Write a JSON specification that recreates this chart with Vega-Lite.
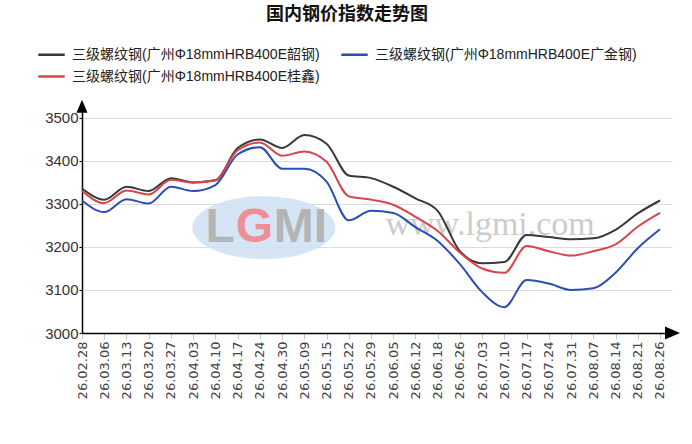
{
  "$schema": "https://vega.github.io/schema/vega-lite/v6.json",
  "width": 590,
  "height": 228,
  "autosize": {"type": "none"},
  "padding": {"left": 82, "top": 105, "right": 20, "bottom": 111},
  "background": "#ffffff",
  "title": {"text": "国内钢价指数走势图", "fontSize": 18, "font": "Noto Sans CJK SC", "fontWeight": "bold", "anchor": "middle", "frame": "group", "dx": -30, "dy": -12, "color": "#111111"},
  "config": {"view": {"stroke": null}},
  "datasets": {
    "one": [{}],
    "prices": [
      {"date": "26.02.28", "series": "三级螺纹钢(广州Φ18mmHRB400E韶钢)", "price": 3336},
      {"date": "26.03.06", "series": "三级螺纹钢(广州Φ18mmHRB400E韶钢)", "price": 3310},
      {"date": "26.03.13", "series": "三级螺纹钢(广州Φ18mmHRB400E韶钢)", "price": 3340},
      {"date": "26.03.20", "series": "三级螺纹钢(广州Φ18mmHRB400E韶钢)", "price": 3330},
      {"date": "26.03.27", "series": "三级螺纹钢(广州Φ18mmHRB400E韶钢)", "price": 3360},
      {"date": "26.04.03", "series": "三级螺纹钢(广州Φ18mmHRB400E韶钢)", "price": 3350},
      {"date": "26.04.10", "series": "三级螺纹钢(广州Φ18mmHRB400E韶钢)", "price": 3355},
      {"date": "26.04.17", "series": "三级螺纹钢(广州Φ18mmHRB400E韶钢)", "price": 3430},
      {"date": "26.04.24", "series": "三级螺纹钢(广州Φ18mmHRB400E韶钢)", "price": 3450},
      {"date": "26.04.30", "series": "三级螺纹钢(广州Φ18mmHRB400E韶钢)", "price": 3430},
      {"date": "26.05.09", "series": "三级螺纹钢(广州Φ18mmHRB400E韶钢)", "price": 3460},
      {"date": "26.05.15", "series": "三级螺纹钢(广州Φ18mmHRB400E韶钢)", "price": 3440},
      {"date": "26.05.22", "series": "三级螺纹钢(广州Φ18mmHRB400E韶钢)", "price": 3366},
      {"date": "26.05.29", "series": "三级螺纹钢(广州Φ18mmHRB400E韶钢)", "price": 3360},
      {"date": "26.06.05", "series": "三级螺纹钢(广州Φ18mmHRB400E韶钢)", "price": 3340},
      {"date": "26.06.12", "series": "三级螺纹钢(广州Φ18mmHRB400E韶钢)", "price": 3313},
      {"date": "26.06.18", "series": "三级螺纹钢(广州Φ18mmHRB400E韶钢)", "price": 3284},
      {"date": "26.06.26", "series": "三级螺纹钢(广州Φ18mmHRB400E韶钢)", "price": 3190},
      {"date": "26.07.03", "series": "三级螺纹钢(广州Φ18mmHRB400E韶钢)", "price": 3162},
      {"date": "26.07.10", "series": "三级螺纹钢(广州Φ18mmHRB400E韶钢)", "price": 3165},
      {"date": "26.07.17", "series": "三级螺纹钢(广州Φ18mmHRB400E韶钢)", "price": 3228},
      {"date": "26.07.24", "series": "三级螺纹钢(广州Φ18mmHRB400E韶钢)", "price": 3223},
      {"date": "26.07.31", "series": "三级螺纹钢(广州Φ18mmHRB400E韶钢)", "price": 3218},
      {"date": "26.08.07", "series": "三级螺纹钢(广州Φ18mmHRB400E韶钢)", "price": 3220},
      {"date": "26.08.14", "series": "三级螺纹钢(广州Φ18mmHRB400E韶钢)", "price": 3240},
      {"date": "26.08.21", "series": "三级螺纹钢(广州Φ18mmHRB400E韶钢)", "price": 3278},
      {"date": "26.08.26", "series": "三级螺纹钢(广州Φ18mmHRB400E韶钢)", "price": 3308},
      {"date": "26.02.28", "series": "三级螺纹钢(广州Φ18mmHRB400E广金钢)", "price": 3308},
      {"date": "26.03.06", "series": "三级螺纹钢(广州Φ18mmHRB400E广金钢)", "price": 3281},
      {"date": "26.03.13", "series": "三级螺纹钢(广州Φ18mmHRB400E广金钢)", "price": 3311},
      {"date": "26.03.20", "series": "三级螺纹钢(广州Φ18mmHRB400E广金钢)", "price": 3301},
      {"date": "26.03.27", "series": "三级螺纹钢(广州Φ18mmHRB400E广金钢)", "price": 3340},
      {"date": "26.04.03", "series": "三级螺纹钢(广州Φ18mmHRB400E广金钢)", "price": 3330},
      {"date": "26.04.10", "series": "三级螺纹钢(广州Φ18mmHRB400E广金钢)", "price": 3344},
      {"date": "26.04.17", "series": "三级螺纹钢(广州Φ18mmHRB400E广金钢)", "price": 3415},
      {"date": "26.04.24", "series": "三级螺纹钢(广州Φ18mmHRB400E广金钢)", "price": 3432},
      {"date": "26.04.30", "series": "三级螺纹钢(广州Φ18mmHRB400E广金钢)", "price": 3382},
      {"date": "26.05.09", "series": "三级螺纹钢(广州Φ18mmHRB400E广金钢)", "price": 3382},
      {"date": "26.05.15", "series": "三级螺纹钢(广州Φ18mmHRB400E广金钢)", "price": 3352},
      {"date": "26.05.22", "series": "三级螺纹钢(广州Φ18mmHRB400E广金钢)", "price": 3262},
      {"date": "26.05.29", "series": "三级螺纹钢(广州Φ18mmHRB400E广金钢)", "price": 3284},
      {"date": "26.06.05", "series": "三级螺纹钢(广州Φ18mmHRB400E广金钢)", "price": 3279},
      {"date": "26.06.12", "series": "三级螺纹钢(广州Φ18mmHRB400E广金钢)", "price": 3246},
      {"date": "26.06.18", "series": "三级螺纹钢(广州Φ18mmHRB400E广金钢)", "price": 3214},
      {"date": "26.06.26", "series": "三级螺纹钢(广州Φ18mmHRB400E广金钢)", "price": 3160},
      {"date": "26.07.03", "series": "三级螺纹钢(广州Φ18mmHRB400E广金钢)", "price": 3095},
      {"date": "26.07.10", "series": "三级螺纹钢(广州Φ18mmHRB400E广金钢)", "price": 3060},
      {"date": "26.07.17", "series": "三级螺纹钢(广州Φ18mmHRB400E广金钢)", "price": 3123},
      {"date": "26.07.24", "series": "三级螺纹钢(广州Φ18mmHRB400E广金钢)", "price": 3115},
      {"date": "26.07.31", "series": "三级螺纹钢(广州Φ18mmHRB400E广金钢)", "price": 3100},
      {"date": "26.08.07", "series": "三级螺纹钢(广州Φ18mmHRB400E广金钢)", "price": 3104},
      {"date": "26.08.14", "series": "三级螺纹钢(广州Φ18mmHRB400E广金钢)", "price": 3140},
      {"date": "26.08.21", "series": "三级螺纹钢(广州Φ18mmHRB400E广金钢)", "price": 3197},
      {"date": "26.08.26", "series": "三级螺纹钢(广州Φ18mmHRB400E广金钢)", "price": 3241},
      {"date": "26.02.28", "series": "三级螺纹钢(广州Φ18mmHRB400E桂鑫)", "price": 3330},
      {"date": "26.03.06", "series": "三级螺纹钢(广州Φ18mmHRB400E桂鑫)", "price": 3302},
      {"date": "26.03.13", "series": "三级螺纹钢(广州Φ18mmHRB400E桂鑫)", "price": 3331},
      {"date": "26.03.20", "series": "三级螺纹钢(广州Φ18mmHRB400E桂鑫)", "price": 3322},
      {"date": "26.03.27", "series": "三级螺纹钢(广州Φ18mmHRB400E桂鑫)", "price": 3356},
      {"date": "26.04.03", "series": "三级螺纹钢(广州Φ18mmHRB400E桂鑫)", "price": 3350},
      {"date": "26.04.10", "series": "三级螺纹钢(广州Φ18mmHRB400E桂鑫)", "price": 3355},
      {"date": "26.04.17", "series": "三级螺纹钢(广州Φ18mmHRB400E桂鑫)", "price": 3425},
      {"date": "26.04.24", "series": "三级螺纹钢(广州Φ18mmHRB400E桂鑫)", "price": 3443},
      {"date": "26.04.30", "series": "三级螺纹钢(广州Φ18mmHRB400E桂鑫)", "price": 3412},
      {"date": "26.05.09", "series": "三级螺纹钢(广州Φ18mmHRB400E桂鑫)", "price": 3422},
      {"date": "26.05.15", "series": "三级螺纹钢(广州Φ18mmHRB400E桂鑫)", "price": 3398},
      {"date": "26.05.22", "series": "三级螺纹钢(广州Φ18mmHRB400E桂鑫)", "price": 3318},
      {"date": "26.05.29", "series": "三级螺纹钢(广州Φ18mmHRB400E桂鑫)", "price": 3310},
      {"date": "26.06.05", "series": "三级螺纹钢(广州Φ18mmHRB400E桂鑫)", "price": 3298},
      {"date": "26.06.12", "series": "三级螺纹钢(广州Φ18mmHRB400E桂鑫)", "price": 3270},
      {"date": "26.06.18", "series": "三级螺纹钢(广州Φ18mmHRB400E桂鑫)", "price": 3237},
      {"date": "26.06.26", "series": "三级螺纹钢(广州Φ18mmHRB400E桂鑫)", "price": 3187},
      {"date": "26.07.03", "series": "三级螺纹钢(广州Φ18mmHRB400E桂鑫)", "price": 3150},
      {"date": "26.07.10", "series": "三级螺纹钢(广州Φ18mmHRB400E桂鑫)", "price": 3140},
      {"date": "26.07.17", "series": "三级螺纹钢(广州Φ18mmHRB400E桂鑫)", "price": 3202},
      {"date": "26.07.24", "series": "三级螺纹钢(广州Φ18mmHRB400E桂鑫)", "price": 3190},
      {"date": "26.07.31", "series": "三级螺纹钢(广州Φ18mmHRB400E桂鑫)", "price": 3180},
      {"date": "26.08.07", "series": "三级螺纹钢(广州Φ18mmHRB400E桂鑫)", "price": 3190},
      {"date": "26.08.14", "series": "三级螺纹钢(广州Φ18mmHRB400E桂鑫)", "price": 3206},
      {"date": "26.08.21", "series": "三级螺纹钢(广州Φ18mmHRB400E桂鑫)", "price": 3247},
      {"date": "26.08.26", "series": "三级螺纹钢(广州Φ18mmHRB400E桂鑫)", "price": 3279}
    ]
  },
  "layer": [
    {
      "data": {"name": "one"},
      "mark": {"type": "point", "filled": true, "shape": "M -1 0 A 1 0.44 0 1 0 1 0 A 1 0.44 0 1 0 -1 0 Z", "size": 20449, "color": "#cfe0f3", "opacity": 0.85, "xOffset": 4},
      "encoding": {
        "x": {"datum": "26.04.24", "type": "ordinal"},
        "y": {"datum": 3245, "type": "quantitative"}
      }
    },
    {
      "data": {"name": "one"},
      "mark": {"type": "text", "text": "L", "font": "Liberation Sans", "fontWeight": "bold", "fontSize": 48, "color": "#b4b4b4", "baseline": "middle", "align": "right", "dx": -25},
      "encoding": {
        "x": {"datum": "26.04.24", "type": "ordinal"},
        "y": {"datum": 3245, "type": "quantitative"}
      }
    },
    {
      "data": {"name": "one"},
      "mark": {"type": "text", "text": "G", "font": "Liberation Sans", "fontWeight": "bold", "fontSize": 48, "color": "#ee8f98", "baseline": "middle", "align": "center", "dx": -5.5},
      "encoding": {
        "x": {"datum": "26.04.24", "type": "ordinal"},
        "y": {"datum": 3245, "type": "quantitative"}
      }
    },
    {
      "data": {"name": "one"},
      "mark": {"type": "text", "text": "MI", "font": "Liberation Sans", "fontWeight": "bold", "fontSize": 48, "color": "#b4b4b4", "baseline": "middle", "align": "left", "dx": 14},
      "encoding": {
        "x": {"datum": "26.04.24", "type": "ordinal"},
        "y": {"datum": 3245, "type": "quantitative"}
      }
    },
    {
      "data": {"name": "one"},
      "mark": {"type": "text", "text": "www.lgmi.com", "font": "Liberation Serif", "fontSize": 34, "color": "#cccccc", "baseline": "middle", "align": "center", "dx": 8},
      "encoding": {
        "x": {"datum": "26.07.03", "type": "ordinal"},
        "y": {"datum": 3250, "type": "quantitative"}
      }
    },
    {
      "data": {"name": "prices"},
      "mark": {"type": "line", "interpolate": "monotone", "strokeWidth": 2},
      "encoding": {
        "x": {
          "field": "date", "type": "ordinal",
          "scale": {"type": "point", "padding": 0.27, "align": 0},
          "axis": {
            "title": null, "labelAngle": 270, "labelFont": "DejaVu Sans", "labelFontSize": 13, "labelColor": "#444444",
            "labelPadding": 2, "tickSize": 6, "tickColor": "#c8c8c8", "domainColor": "#000000", "domainWidth": 1.5,
            "grid": false, "labelOverlap": false
          }
        },
        "y": {
          "field": "price", "type": "quantitative",
          "scale": {"domain": [3000, 3530], "nice": false, "zero": false},
          "axis": {
            "title": null, "values": [3000, 3100, 3200, 3300, 3400, 3500], "format": "d", "labelFont": "Liberation Sans", "labelFontSize": 15,
            "labelColor": "#333333", "labelPadding": 1, "tickSize": 3, "tickColor": "#000000", "domainColor": "#000000",
            "domainWidth": 1.5, "grid": true, "gridColor": "#dcdcdc", "gridWidth": 1
          }
        },
        "color": {
          "field": "series", "type": "nominal",
          "scale": {
            "domain": ["三级螺纹钢(广州Φ18mmHRB400E韶钢)", "三级螺纹钢(广州Φ18mmHRB400E广金钢)", "三级螺纹钢(广州Φ18mmHRB400E桂鑫)"],
            "range": ["#383838", "#2a4eb2", "#d8444a"]
          },
          "legend": {
            "title": null, "orient": "none", "legendX": -45, "legendY": -65, "columns": 2, "direction": "horizontal",
            "symbolType": "stroke", "symbolSize": 700, "symbolStrokeWidth": 2.5, "labelFontSize": 14,
            "labelFont": "Liberation Sans, Noto Sans CJK SC", "labelLimit": 400, "labelColor": "#222222",
            "columnPadding": 16, "rowPadding": -11, "labelOffset": 6
          }
        }
      }
    },
    {
      "data": {"name": "one"},
      "mark": {"type": "point", "filled": true, "shape": "M 0 -1 L 0.85 1 L -0.85 1 Z", "size": 169, "color": "#000000", "opacity": 1},
      "encoding": {
        "x": {"datum": "26.02.28", "type": "ordinal"},
        "y": {"datum": 3527, "type": "quantitative"}
      }
    },
    {
      "data": {"name": "one"},
      "mark": {"type": "point", "filled": true, "shape": "M 1 0 L -1 -0.87 L -1 0.87 Z", "size": 225, "color": "#000000", "opacity": 1, "xOffset": 12.5},
      "encoding": {
        "x": {"datum": "26.08.26", "type": "ordinal"},
        "y": {"datum": 3000, "type": "quantitative"}
      }
    }
  ]
}
